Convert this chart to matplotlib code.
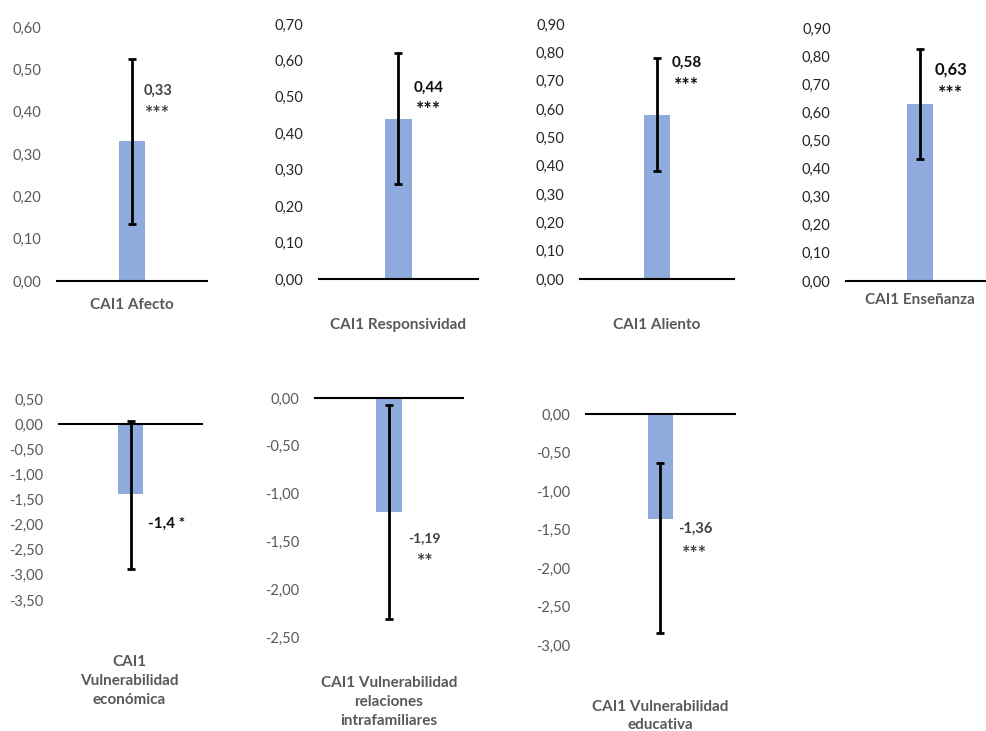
import numpy as np
import matplotlib
matplotlib.use("Agg")
import matplotlib.pyplot as plt
from matplotlib.ticker import FuncFormatter

plt.rcParams['font.family'] = ['Lato', 'DejaVu Sans']

# data, one bar per panel
names = ["CAI1 Afecto", "CAI1 Responsividad", "CAI1 Aliento", "CAI1 Enseñanza",
         "CAI1\nVulnerabilidad\neconómica",
         "CAI1 Vulnerabilidad\nrelaciones\nintrafamiliares",
         "CAI1 Vulnerabilidad\neducativa"]
values = [0.33, 0.44, 0.58, 0.63, -1.40, -1.19, -1.36]
err_low = [0.195, 0.18, 0.20, 0.195, 1.48, 1.12, 1.48]
err_high = [0.195, 0.18, 0.20, 0.195, 1.47, 1.12, 0.72]
value_labels = ["0,33", "0,44", "0,58", "0,63", "-1,4 *", "-1,19", "-1,36"]
stars = ["***", "***", "***", "***", "", "**", "***"]
y_min = [0.0, 0.0, 0.0, 0.0, -3.5, -2.5, -3.0]
y_max = [0.6, 0.7, 0.9, 0.9, 0.5, 0.0, 0.0]
y_step = [0.1, 0.1, 0.1, 0.1, 0.5, 0.5, 0.5]

W, H = 987, 731

# axes boxes in pixels: left, top, right, bottom
boxes = [(57, 27, 207, 281), (319, 24, 478, 279), (580, 24, 734, 279),
         (846, 28, 994, 281), (59, 399, 202, 600), (315, 398, 463, 637),
         (586, 414, 735, 645)]
# label centres in pixels
name_pos = [(132, 305), (398, 325), (657, 325), (920, 300),
            (129, 681), (389, 702), (660, 716)]
val_pos = [(158, 91), (429, 88), (687, 63), (951, 70),
           (167, 524), (425, 538), (695, 529)]
star_pos = [(158, 114), (429, 110), (687, 86), (951, 94),
            (0, 0), (425, 561), (695, 553)]
tick_col = ["#595959", "#262626", "#262626", "#262626", "#595959", "#595959", "#595959"]
val_col = ["#404040", "#0d0d0d", "#0d0d0d", "#0d0d0d", "#0d0d0d", "#404040", "#404040"]
val_size = [10.5, 11, 11, 12, 11, 10, 10.5]

GREY = "#595959"
BAR = "#8faadc"


def px(x, y):
    return x / W, 1 - y / H


def fmt(v, pos):
    if abs(v) < 1e-9:
        v = 0.0
    return f"{v:.2f}".replace(".", ",")


fig = plt.figure(figsize=(W / 100, H / 100), dpi=100)

for i in range(len(values)):
    l, t, r, b = boxes[i]
    ax = fig.add_axes([l / W, 1 - b / H, (r - l) / W, (b - t) / H])
    ax.bar([0], [values[i]], width=0.17, color=BAR, zorder=2)
    ax.errorbar([0], [values[i]], yerr=[[err_low[i]], [err_high[i]]],
                fmt="none", ecolor="black", elinewidth=2, capsize=3, capthick=2, zorder=3)
    ax.axhline(0, color="black", lw=1.5, clip_on=False, zorder=4)
    ax.set_xlim(-0.5, 0.5)
    ax.set_ylim(y_min[i], y_max[i])
    ax.set_yticks(np.round(np.arange(y_min[i], y_max[i] + y_step[i] / 2, y_step[i]), 2))
    ax.yaxis.set_major_formatter(FuncFormatter(fmt))
    ax.set_xticks([])
    ax.tick_params(axis="y", length=0, pad=11, labelsize=10.5, labelcolor=tick_col[i])
    for s in ax.spines.values():
        s.set_visible(False)
    ax.patch.set_alpha(0)

    fig.text(*px(*name_pos[i]), names[i], ha="center", va="center",
             fontsize=11, fontweight="bold", color=GREY, linespacing=1.45)
    fig.text(*px(*val_pos[i]), value_labels[i], ha="center", va="center",
             fontsize=val_size[i], fontweight="bold", color=val_col[i])
    if stars[i]:
        fig.text(*px(*star_pos[i]), stars[i], ha="center", va="center",
                 fontsize=14, fontweight="bold", color=val_col[i])

fig.savefig("out.png", dpi=100)
